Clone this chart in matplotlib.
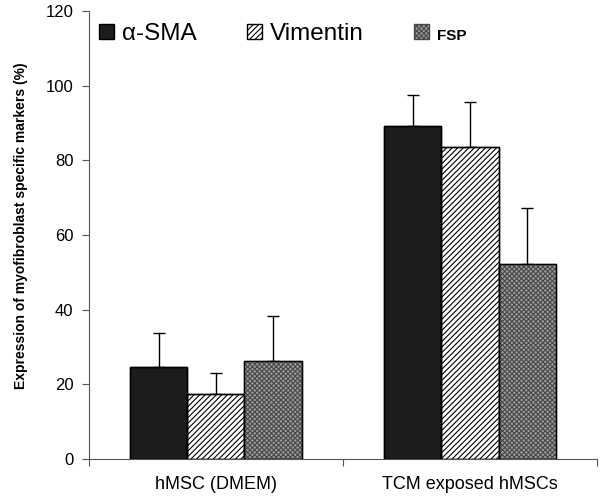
import matplotlib
matplotlib.use("Agg")
import matplotlib.pyplot as plt
import numpy as np

plt.rcParams['font.family'] = ['Liberation Sans', 'DejaVu Sans']
plt.rcParams['hatch.linewidth'] = 0.8

# Dados
grupos = ["hMSC (DMEM)", "TCM exposed hMSCs"]
marcadores = ["α-SMA", "Vimentin", "FSP"]
valores = {
    "α-SMA":    [24.6, 89.3],
    "Vimentin": [17.3, 83.7],
    "FSP":      [26.2, 52.2],
}
erros = {
    "α-SMA":    [9.1, 8.2],
    "Vimentin": [5.7, 12.0],
    "FSP":      [12.0, 15.0],
}

cores = {"α-SMA": "#1c1c1c", "Vimentin": "white", "FSP": "#9a9a9a"}
hatches = {"α-SMA": None, "Vimentin": "//////", "FSP": "xxxxxxx"}
cor_hatch = {"α-SMA": "black", "Vimentin": "black", "FSP": "#484848"}

fig = plt.figure(figsize=(6, 4.99), dpi=100)
ax = fig.add_axes([0.148, 0.080, 0.847, 0.898])

x = np.arange(len(grupos))
largura = 0.225
for i, m in enumerate(marcadores):
    pos = x + (i - 1) * largura
    ax.bar(pos, valores[m], largura, color=cores[m], edgecolor=cor_hatch[m],
           hatch=hatches[m], linewidth=1.0, label=m, zorder=2)
    # contorno preto
    ax.bar(pos, valores[m], largura, fill=False, edgecolor="black",
           linewidth=1.0, zorder=3)
    ax.errorbar(pos, valores[m], yerr=[np.zeros(len(grupos)), erros[m]],
                fmt="none", ecolor="black", elinewidth=1.0, capsize=4,
                capthick=1.0, zorder=1)

ax.set_xlim(-0.5, 1.5)
ax.set_ylim(0, 120)
ax.set_yticks(range(0, 121, 20))
ax.tick_params(axis="y", labelsize=12, length=5, color="#555555", pad=6)

ax.set_xticks([-0.5, 0.5, 1.5])
ax.set_xticklabels([])
ax.tick_params(axis="x", which="major", length=5, color="#555555")
ax.set_xticks(x, minor=True)
ax.set_xticklabels(grupos, minor=True, fontsize=13)
ax.tick_params(axis="x", which="minor", length=0, pad=12)

for s in ["top", "right"]:
    ax.spines[s].set_visible(False)
for s in ["left", "bottom"]:
    ax.spines[s].set_color("#555555")

ax.set_ylabel("Expression of myofibroblast specific markers (%)",
              fontsize=10, fontweight="bold")
ax.yaxis.set_label_coords(-0.12, 0.52)

leg = ax.legend(ncol=3, frameon=False, loc="upper left",
                bbox_to_anchor=(0.0, 0.995), borderaxespad=0, fontsize=17.5,
                handlelength=0.62, handleheight=0.62, handletextpad=0.35,
                columnspacing=2.05)
leg.get_texts()[2].set_fontsize(11)
leg.get_texts()[2].set_fontweight("bold")

fig.savefig("out.png", dpi=100)
